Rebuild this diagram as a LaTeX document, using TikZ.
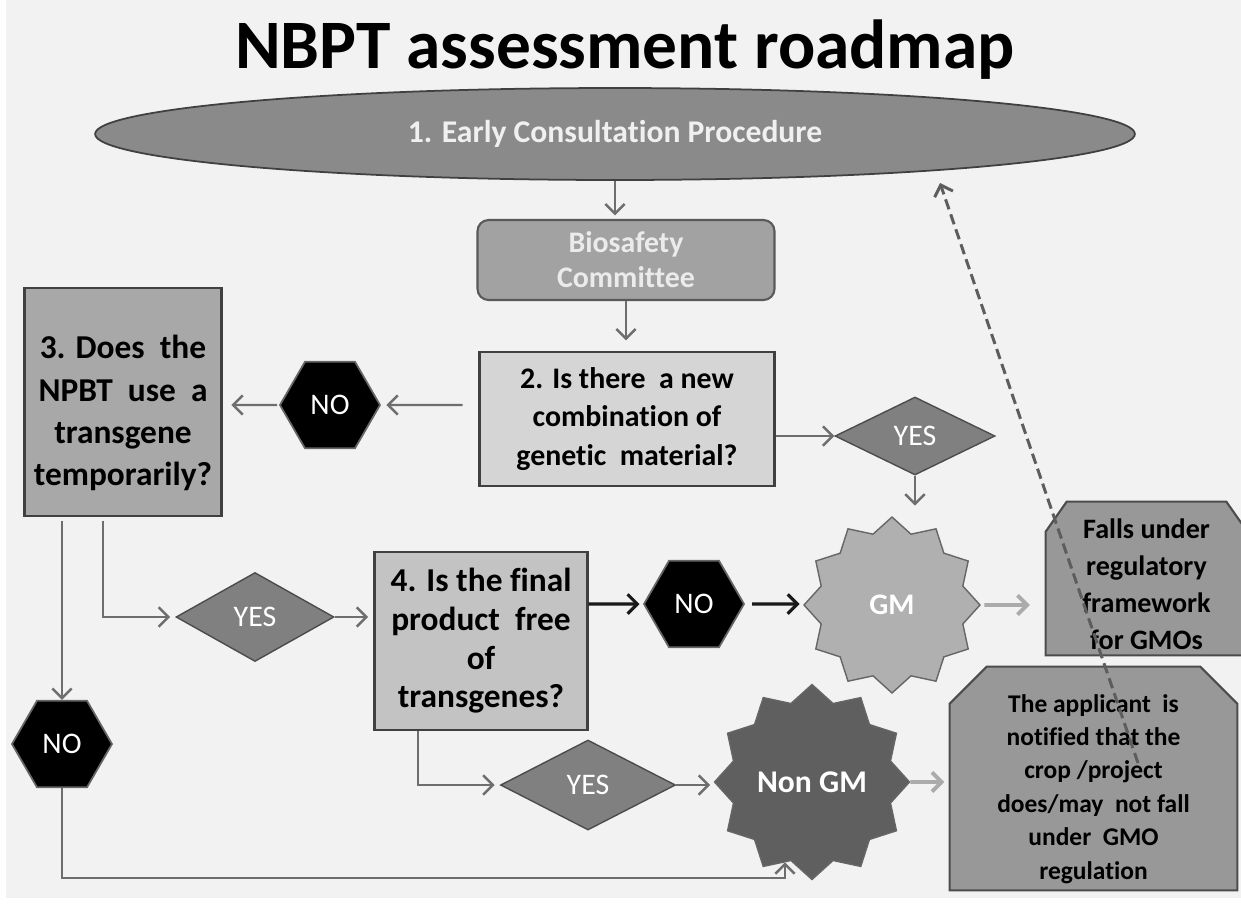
\documentclass[tikz,border=0pt]{standalone}
\usepackage{fontspec}
\setmainfont{Carlito}[Ligatures=NoCommon]
\usetikzlibrary{shapes,arrows.meta,positioning,calc,backgrounds}

\definecolor{pagegray}{HTML}{F2F2F2}
\definecolor{ellgray}{HTML}{8A8A8A}
\definecolor{biogray}{HTML}{A2A2A2}
\definecolor{palebox}{HTML}{D5D5D5}
\definecolor{midbox}{HTML}{A8A8A8}
\definecolor{q4gray}{HTML}{C3C3C3}
\definecolor{yesgray}{HTML}{808080}
\definecolor{gmgray}{HTML}{B0B0B0}
\definecolor{nongmgray}{HTML}{5F5F5F}
\definecolor{taggray}{HTML}{989898}
\definecolor{arrgray}{HTML}{6E6E6E}
\definecolor{palearrow}{HTML}{ABABAB}

\begin{document}
\begin{tikzpicture}[x=0.02cm, y=-0.02cm,
    box/.style={rectangle, draw=black!75, line width=1.2pt, align=center, inner sep=2pt},
    hexno/.style={regular polygon, regular polygon sides=6, draw=black!60, line width=1pt, fill=black, text=white, minimum size=2cm, inner sep=0pt, font=\fontsize{17}{20}\selectfont},
    yesdia/.style={diamond, draw=black!70, line width=0.8pt, fill=yesgray, text=white, inner sep=0pt, font=\fontsize{17}{20}\selectfont},
    burst/.style={star, star points=12, star point ratio=1.2, draw=black!60, line width=0.8pt, text=white, inner sep=0pt},
    tag/.style={rectangle, align=center, inner sep=2pt},
    tagline/.style={draw=black!70, line width=1.2pt, fill=taggray},
    arr/.style={draw=arrgray, line width=1.4pt, -{Straight Barb[length=5.5pt,width=11pt]}},
    blackarr/.style={draw=black!90, line width=1.8pt, -{Straight Barb[length=5.5pt,width=11pt]}},
    palearr/.style={draw=palearrow, line width=2.2pt, -{Straight Barb[length=5.5pt,width=11pt]}},
    dasharr/.style={draw=arrgray!85!black, line width=1.7pt, dashed, dash pattern=on 6pt off 3pt, -{Straight Barb[length=5.5pt,width=11pt]}}
]
    \useasboundingbox (0,0) rectangle (1241,904);
    \begin{scope}[on background layer]
        \fill[pagegray] (6,0) rectangle (1241,898);
    \end{scope}

    \node[font=\fontsize{39.5}{46}\selectfont\bfseries] (title) at (625,50) {NBPT assessment roadmap};

    \node[ellipse, draw=black!75, line width=1pt, fill=ellgray, minimum width=20.8cm, minimum height=1.84cm,
          text=white!94!black, font=\fontsize{18}{21}\selectfont\bfseries] (early) at (615,134) {1. Early Consultation Procedure};

    \node[box, rounded corners=0.22cm, draw=black!65, fill=biogray, minimum width=5.94cm, minimum height=1.6cm,
          text=white!92!black, font=\fontsize{17}{20}\selectfont\bfseries] (bio) at (626,260) {Biosafety\\Committee};

    \node[box, fill=palebox, minimum width=5.9cm, minimum height=2.68cm,
          font=\fontsize{17}{22}\selectfont\bfseries] (q2) at (627,419) {2. Is there\ \ a new\\combination of\\genetic\ \ material?};

    \node[hexno] (no1) at (330,405) {NO};

    \node[box, fill=midbox, minimum width=3.94cm, minimum height=4.56cm,
          font=\fontsize{19}{24}\selectfont\bfseries] (q3) at (123,402) {\rule{0pt}{26pt}3. Does\ \ the\\NPBT\ \ use\ \ a\\transgene\\temporarily?};

    \node[yesdia, minimum width=3.2cm, minimum height=1.56cm] (yes1) at (915,436) {YES};

    \node[burst, fill=gmgray, minimum size=3.52cm, font=\fontsize{17}{20}\selectfont\bfseries] (gm) at (892,605) {GM};

    \node[tag, minimum width=4.02cm, minimum height=3.06cm,
          font=\fontsize{16}{21}\selectfont\bfseries] (falls) at (1146.5,578.5) {\rule{0pt}{17.7pt}Falls under\\regulatory\\framework\\for GMOs};

    \node[hexno] (no2) at (62,744) {NO};

    \node[yesdia, minimum width=3.16cm, minimum height=1.78cm] (yes2) at (255,617) {YES};

    \node[box, fill=q4gray, minimum width=4.26cm, minimum height=3.56cm,
          font=\fontsize{19}{22}\selectfont\bfseries] (q4) at (481,641) {4. Is the final\\product\ \ free\\of\\transgenes?};

    \node[hexno] (no3) at (694,604) {NO};

    \node[yesdia, minimum width=3.5cm, minimum height=1.8cm] (yes3) at (588,785) {YES};

    \node[burst, fill=nongmgray, minimum size=3.9cm, font=\fontsize{18}{21}\selectfont\bfseries] (nongm) at (812,782) {Non GM};

    \node[tag, minimum width=5.74cm, minimum height=4.46cm,
          font=\fontsize{14.5}{19}\selectfont\bfseries] (notify) at (1093.5,778.5) {\rule{0pt}{22pt}The applicant\ \ is\\notified that the\\crop /project\\does/may\ \ not fall\\under\ \ GMO\\regulation};

    % cut-corner outlines behind the two outcome texts
    \begin{scope}[on background layer]
        \draw[tagline] (falls.south west) -- ([yshift=-0.6cm]falls.north west) -- ([xshift=0.42cm]falls.north west)
            -- ([xshift=-0.42cm]falls.north east) -- ([yshift=-0.6cm]falls.north east) -- (falls.south east) -- cycle;
        \draw[tagline] (notify.south west) -- ([yshift=-0.74cm]notify.north west) -- ([xshift=0.74cm]notify.north west)
            -- ([xshift=-0.74cm]notify.north east) -- ([yshift=-0.74cm]notify.north east) -- (notify.south east) -- cycle;
    \end{scope}

    % main line down the middle
    \draw[arr, shorten >=2pt] (early.south) -- (early.south |- bio.north);
    \draw[arr, shorten >=6pt] (bio.south) -- (bio.south |- q2.north);
    \draw[arr, shorten <=9pt, shorten >=3pt] (q2.west |- no1) -- (no1.east);
    \draw[arr, shorten <=1pt, shorten >=5pt] (no1.west) -- (no1 -| q3.east);
    \draw[arr] (q2.east |- yes1) -- (yes1.west);
    \draw[arr, shorten >=6pt] (yes1.south) -- (yes1.south |- gm.north);
    \draw[palearr, shorten <=2pt, shorten >=9pt] (gm.east) -- (gm -| falls.west);

    % left branch
    \draw[arr, shorten <=2pt] (no2.north |- q3.south) -- (no2.north);
    \draw[arr, shorten <=2pt, shorten >=3pt] ([xshift=-0.4cm]q3.south) |- (yes2.west);
    \draw[arr, shorten >=3pt] (yes2.east) -- (yes2.east -| q4.west);
    \draw[blackarr, shorten >=2pt] (q4.east |- no3) -- (no3.west);
    \draw[blackarr, shorten <=4pt, shorten >=2pt] (no3.east) -- (no3 -| gm.west);
    \draw[arr, shorten >=3pt] ([xshift=-1.26cm]q4.south) |- (yes3.west);
    \draw[arr, shorten >=2pt] (yes3.east) -- (yes3.east -| nongm.west);
    \draw[palearr, shorten >=3pt] (nongm.east) -- (nongm -| notify.west);

    \coordinate (nobase) at (785,878);
    \draw[arr] (no2.south) |- (nobase) -- (nobase |- nongm.252);

    % back to the consultation
    \coordinate (dashfoot) at (1138,763);
    \coordinate (dashtip) at (940,183);
    \draw[dasharr] (dashfoot) -- (dashtip);
\end{tikzpicture}
\end{document}
